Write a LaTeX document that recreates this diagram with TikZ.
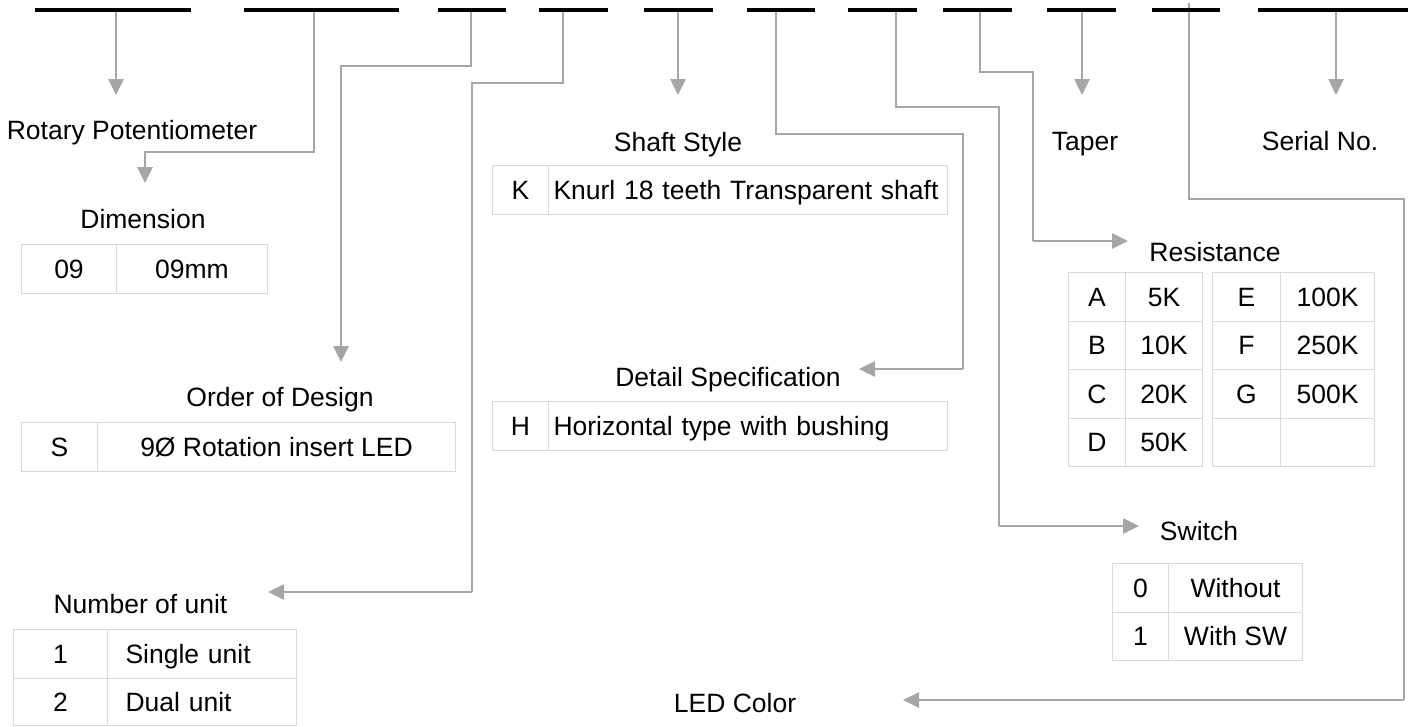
\documentclass[tikz,border=0pt]{standalone}
\usepackage{fontspec}
\setmainfont{Liberation Sans}
\usetikzlibrary{arrows.meta}
\definecolor{conn}{HTML}{A6A6A6}
\definecolor{grid}{HTML}{D9D9D9}
\begin{document}
\begin{tikzpicture}[x=1pt,y=-1pt,
 every node/.style={font=\fontsize{26.5}{30}\selectfont, inner sep=0pt, text=black},
 codebar/.style={fill=black, draw=none, minimum height=4pt, anchor=west},
 heavy/.style={draw=conn, line width=2.6pt},
 light/.style={draw=conn, line width=1.3pt},
 tip/.style={-{Triangle[width=15pt,length=16pt]}},
 lbl/.style={anchor=base},
 cell/.style 2 args={draw=grid, line width=1pt, anchor=north west, text height=19pt, text depth=0pt, minimum width=#1, minimum height=#2},
 lcell/.style 2 args={draw=grid, line width=1pt, anchor=north west, text height=19pt, text depth=0pt, align=left, inner xsep=#1, text width=#2, minimum height=49pt},
]
\useasboundingbox (0,0) rectangle (1410,726);

% ---------- connectors ----------
% 1 Rotary Potentiometer
\coordinate (t1) at (116,95);
\draw[heavy,tip] (116,11) -- (t1);
% 2 Dimension
\coordinate (t2) at (145,183);
\draw[heavy,tip] (314,11) -- (314,152) -- (145,152) -- (t2);
% 3 Order of Design
\coordinate (t3) at (341,362);
\draw[heavy,tip] (471,11) -- (471,66) -- (341,66) -- (t3);
% 4 Number of unit
\coordinate (t4) at (268,592);
\draw[light] (563,11) -- (563,83) -- (472,83) -- (472,592);
\draw[heavy,tip] (472,592) -- (t4);
% 5 Shaft Style
\coordinate (t5) at (678,95);
\draw[heavy,tip] (678,11) -- (t5);
% 6 Detail Specification
\coordinate (t6) at (859,369);
\draw[light] (776,11) -- (776,134) -- (963,134) -- (963,369);
\draw[heavy,tip] (963,369) -- (t6);
% 7 Switch
\coordinate (t7) at (1139,526);
\draw[light] (896,11) -- (896,107) -- (999,107) -- (999,526);
\draw[heavy,tip] (999,526) -- (t7);
% 8 Resistance
\coordinate (t8) at (1128,241);
\draw[light] (980,11) -- (980,72) -- (1033,72) -- (1033,241);
\draw[heavy,tip] (1033,241) -- (t8);
% 9 Taper
\coordinate (t9) at (1082,95);
\draw[heavy,tip] (1082,11) -- (t9);
% 10 LED Color
\coordinate (t10) at (903,700);
\draw[light] (1189,3) -- (1189,199) -- (1404,199) -- (1404,700);
\draw[heavy,tip] (1404,700) -- (t10);
% 11 Serial No.
\coordinate (t11) at (1336,95);
\draw[heavy,tip] (1336,11) -- (t11);

% ---------- code bars ----------
\node[codebar, minimum width=156pt] (b1) at (35,9.5) {};
\node[codebar, minimum width=155pt] (b2) at (244,9.5) {};
\node[codebar, minimum width=68pt] (b3) at (438,9.5) {};
\node[codebar, minimum width=69pt] (b4) at (539,9.5) {};
\node[codebar, minimum width=69pt] (b5) at (644,9.5) {};
\node[codebar, minimum width=68pt] (b6) at (747,9.5) {};
\node[codebar, minimum width=69pt] (b7) at (848,9.5) {};
\node[codebar, minimum width=69pt] (b8) at (943,9.5) {};
\node[codebar, minimum width=69pt] (b9) at (1047,9.5) {};
\node[codebar, minimum width=68pt] (b10) at (1152,9.5) {};
\node[codebar, minimum width=150pt] (b11) at (1258,9.5) {};

% ---------- labels ----------
\node[lbl] (rotary) at (132,139) {Rotary Potentiometer};
\node[lbl] (dim) at (143,228) {Dimension};
\node[lbl] (order) at (280,406) {Order of Design};
\node[lbl] (numunit) at (140.5,613) {Number of unit};
\node[lbl] (shaft) at (678,151) {Shaft Style};
\node[lbl] (detail) at (728,386) {Detail Specification};
\node[lbl] (taper) at (1085,150) {Taper};
\node[lbl] (serial) at (1320,150) {Serial No.};
\node[lbl] (resist) at (1215,261) {Resistance};
\node[lbl] (switch) at (1199,540) {Switch};
\node[lbl] (led) at (735,712) {LED Color};

% ---------- Dimension table ----------
\node[cell={95pt}{49pt}] (d1) at (21,244) {09};
\node[cell={151pt}{49pt}] (d2) at (116,244) {09mm};

% ---------- Order of Design table ----------
\node[cell={76pt}{49pt}] (o1) at (21,422) {S};
\node[cell={358pt}{49pt}] (o2) at (97,422) {9Ø Rotation insert LED};

% ---------- Number of unit table ----------
\node[cell={94pt}{49pt}] (n1a) at (13,629) {1};
\node[lcell={18pt}{153pt}] (n1b) at (107,629) {Single unit};
\node[cell={94pt}{47pt}] (n2a) at (13,678) {2};
\node[lcell={18pt}{153pt}, minimum height=47pt] (n2b) at (107,678) {Dual unit};

% ---------- Shaft Style table ----------
\node[cell={56pt}{49pt}] (k1) at (492,165) {K};
\node[lcell={5pt}{389pt}] (k2) at (548,165) {Knurl 18 teeth Transparent shaft};

% ---------- Detail Specification table ----------
\node[cell={56pt}{49pt}] (h1) at (492,401) {H};
\node[lcell={5pt}{389pt}] (h2) at (548,401) {Horizontal type with bushing};

% ---------- Resistance table ----------
\node[cell={57pt}{48.5pt}] (ra1) at (1068,272) {A};
\node[cell={77pt}{48.5pt}] (ra2) at (1125,272) {5K};
\node[cell={57pt}{48.5pt}] (rb1) at (1068,320.5) {B};
\node[cell={77pt}{48.5pt}] (rb2) at (1125,320.5) {10K};
\node[cell={57pt}{48.5pt}] (rc1) at (1068,369) {C};
\node[cell={77pt}{48.5pt}] (rc2) at (1125,369) {20K};
\node[cell={57pt}{48.5pt}] (rd1) at (1068,417.5) {D};
\node[cell={77pt}{48.5pt}] (rd2) at (1125,417.5) {50K};
\node[cell={68pt}{48.5pt}] (re1) at (1212,272) {E};
\node[cell={94pt}{48.5pt}] (re2) at (1280,272) {100K};
\node[cell={68pt}{48.5pt}] (rf1) at (1212,320.5) {F};
\node[cell={94pt}{48.5pt}] (rf2) at (1280,320.5) {250K};
\node[cell={68pt}{48.5pt}] (rg1) at (1212,369) {G};
\node[cell={94pt}{48.5pt}] (rg2) at (1280,369) {500K};
\node[cell={68pt}{48.5pt}] (rh1) at (1212,417.5) {};
\node[cell={94pt}{48.5pt}] (rh2) at (1280,417.5) {};

% ---------- Switch table ----------
\node[cell={56pt}{48.5pt}] (s1a) at (1112,563) {0};
\node[cell={134pt}{48.5pt}] (s1b) at (1168,563) {Without};
\node[cell={56pt}{48.5pt}] (s2a) at (1112,611.5) {1};
\node[cell={134pt}{48.5pt}] (s2b) at (1168,611.5) {With SW};
\end{tikzpicture}
\end{document}
